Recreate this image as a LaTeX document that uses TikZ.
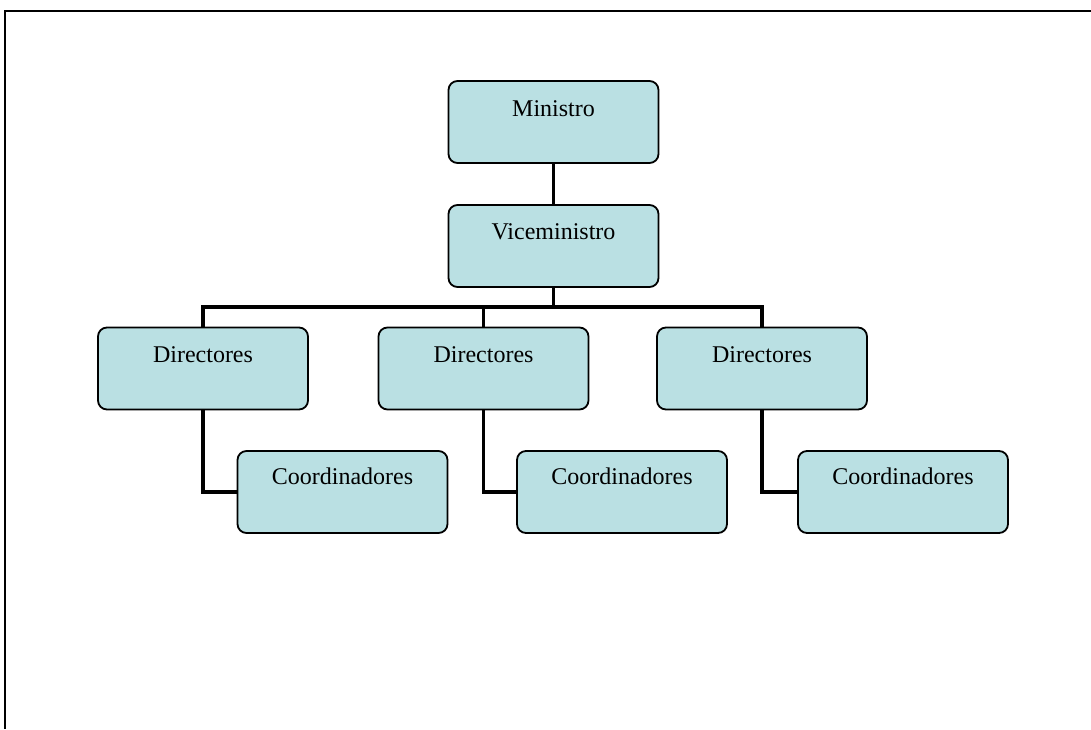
\documentclass[tikz,border=0pt]{standalone}
\usepackage{fontspec}
\setmainfont{Liberation Serif}
\definecolor{boxfill}{RGB}{186,224,227}
\begin{document}
\begin{tikzpicture}[x=1pt,y=-1pt,
  orgbox/.style={draw=black, line width=1.8pt, fill=boxfill, rounded corners=9pt,
    minimum width=210pt, minimum height=82pt, inner sep=0pt},
  orgtext/.style={anchor=base, inner sep=0pt, font=\fontsize{24}{28}\selectfont},
  conn/.style={draw=black, line width=3.6pt},
  frameline/.style={draw=black, line width=2pt}]
\useasboundingbox (0,0) rectangle (1091,729);
\draw[frameline] (1091,11) -- (5,11) -- (5,729);

\coordinate (bus) at (0,307);
\node[orgbox] (m) at (553.5,122) {};
\node[orgbox] (v) at (553.5,246) {};
\node[orgbox] (d1) at (203,368.5) {};
\node[orgbox] (d2) at (483.5,368.5) {};
\node[orgbox] (d3) at (762,368.5) {};
\node[orgbox] (c1) at (342.5,492) {};
\node[orgbox] (c2) at (622,492) {};
\node[orgbox] (c3) at (903,492) {};

\draw[conn] (m.south) -- (v.north);
\draw[conn] (v.south) -- (v.south |- bus);
\draw[conn] (d1.north) |- (bus -| d3.north) -- (d3.north);
\draw[conn] (d2.north) -- (d2.north |- bus);
\draw[conn] (d1.south) |- (c1.west);
\draw[conn] (d2.south) |- (c2.west);
\draw[conn] (d3.south) |- (c3.west);

\node[orgtext] (tm) at ([yshift=-36pt]m.north) {Ministro};
\node[orgtext] (tv) at ([yshift=-35pt]v.north) {Viceministro};
\node[orgtext] (td1) at ([yshift=-36pt]d1.north) {Directores};
\node[orgtext] (td2) at ([yshift=-36pt]d2.north) {Directores};
\node[orgtext] (td3) at ([yshift=-36pt]d3.north) {Directores};
\node[orgtext] (tc1) at ([yshift=-34pt]c1.north) {Coordinadores};
\node[orgtext] (tc2) at ([yshift=-34pt]c2.north) {Coordinadores};
\node[orgtext] (tc3) at ([yshift=-34pt]c3.north) {Coordinadores};
\end{tikzpicture}
\end{document}
